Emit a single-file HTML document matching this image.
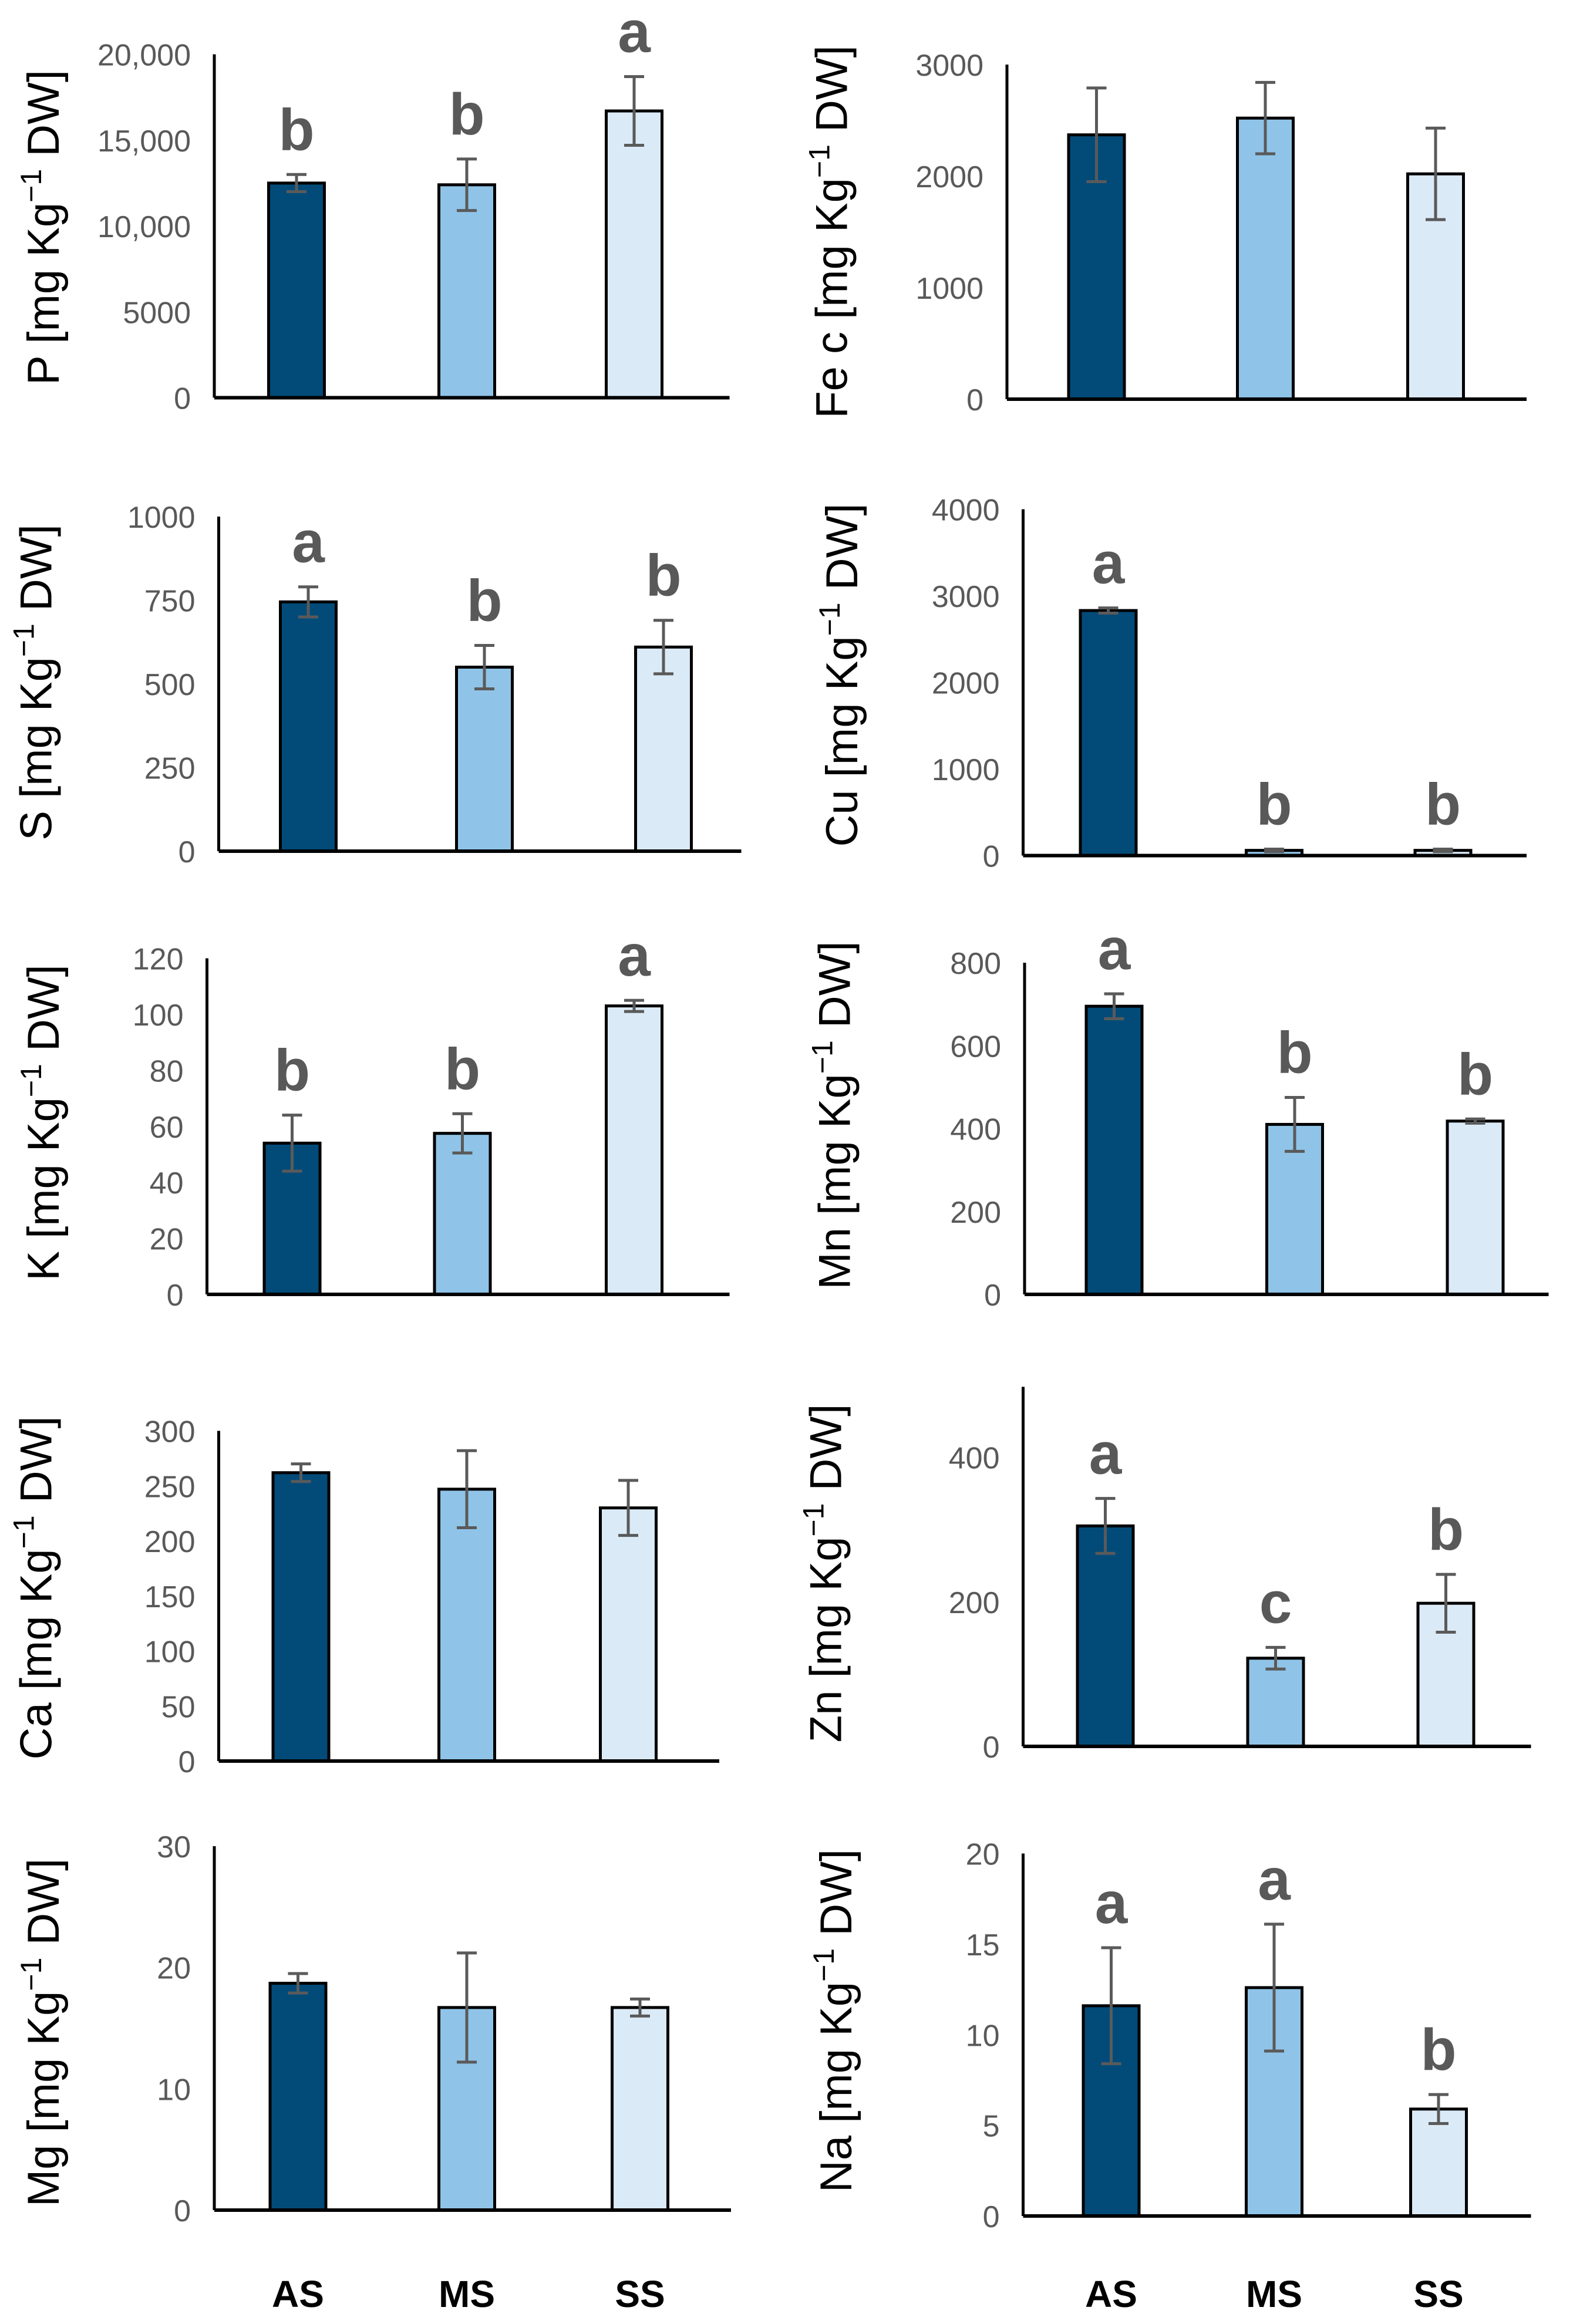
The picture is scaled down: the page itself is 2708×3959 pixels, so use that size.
<!DOCTYPE html>
<html><head><meta charset="utf-8">
<style>
html,body{margin:0;padding:0;background:#fff;}
svg{display:block;}
text{font-family:"Liberation Sans",sans-serif;}
</style></head>
<body>
<svg id="fig" width="2708" height="3959" viewBox="0 0 2708 3959" xmlns="http://www.w3.org/2000/svg"></svg>
<script>
const categories = ["AS","MS","SS"];
const barColors = ["#024b79","#8fc4e8","#dbeaf7"];

const pValues = [12500,12400,16700];  const pErrors = [500,1500,2000];  const pLetters = ["b","b","a"]; const pTicks = [0,5000,10000,15000,20000]; const pTickLabels = ["0","5000","10,000","15,000","20,000"];
const feValues = [2370,2520,2020];    const feErrors = [420,320,410];   const feLetters = ["","",""];   const feTicks = [0,1000,2000,3000]; const feTickLabels = ["0","1000","2000","3000"];
const sValues = [745,550,610];        const sErrors = [45,65,80];       const sLetters = ["a","b","b"]; const sTicks = [0,250,500,750,1000]; const sTickLabels = ["0","250","500","750","1000"];
const cuValues = [2830,60,60];        const cuErrors = [30,15,15];      const cuLetters = ["a","b","b"]; const cuTicks = [0,1000,2000,3000,4000]; const cuTickLabels = ["0","1000","2000","3000","4000"];
const kValues = [54,57.5,103];        const kErrors = [10,7,2];         const kLetters = ["b","b","a"]; const kTicks = [0,20,40,60,80,100,120]; const kTickLabels = ["0","20","40","60","80","100","120"];
const mnValues = [695,410,418];       const mnErrors = [30,65,5];       const mnLetters = ["a","b","b"]; const mnTicks = [0,200,400,600,800]; const mnTickLabels = ["0","200","400","600","800"];
const caValues = [262,247,230];       const caErrors = [8,35,25];       const caLetters = ["","",""];   const caTicks = [0,50,100,150,200,250,300]; const caTickLabels = ["0","50","100","150","200","250","300"];
const znValues = [305,122,198];       const znErrors = [38,15,40];      const znLetters = ["a","c","b"]; const znTicks = [0,200,400]; const znTickLabels = ["0","200","400"];
const mgValues = [18.7,16.7,16.7];    const mgErrors = [0.8,4.5,0.7];   const mgLetters = ["","",""];   const mgTicks = [0,10,20,30]; const mgTickLabels = ["0","10","20","30"];
const naValues = [11.6,12.6,5.9];     const naErrors = [3.2,3.5,0.8];   const naLetters = ["a","a","b"]; const naTicks = [0,5,10,15,20]; const naTickLabels = ["0","5","10","15","20"];

const svg = document.getElementById('fig');
const NS = "http://www.w3.org/2000/svg";
function mk(tag, attrs, parent){ const e=document.createElementNS(NS,tag); for(const k in attrs) e.setAttribute(k,attrs[k]); (parent||svg).appendChild(e); return e; }

const S=2.5;
function chart(id, title, vals, errs, letters, ticks, tickLabels, L){
  const g = mk('g',{});
  
  
  const ax=L.ax*S, y0=L.y0*S, yTop=L.yTop*S, xEnd=L.xEnd*S;
  const topVal = L.topVal;
  const y = v => y0 - (v/topVal)*(y0-yTop);
  const axTop = L.axTop!==undefined ? L.axTop*S : yTop;
  vals.forEach((v,i)=>{
    const cx=L.bars[i]*S, w=95;
    const r=mk('rect',{x:cx-w/2,y:y(v),width:w,height:y0-y(v),fill:barColors[i],stroke:'#000','stroke-width':5},g);
    
    
    const et=y(v+errs[i]), eb=y(v-errs[i]);
    const eg=mk('g',{stroke:'#5a5a5a','stroke-width':5},g);
    
    
    mk('line',{x1:cx,y1:et,x2:cx,y2:eb},eg);
    mk('line',{x1:cx-17,y1:et,x2:cx+17,y2:et},eg);
    mk('line',{x1:cx-17,y1:eb,x2:cx+17,y2:eb},eg);
    if(letters[i]){
      const t=mk('text',{x:cx,y:et-42,'text-anchor':'middle','font-size':100,'font-weight':'bold',fill:'#595959'},g);
      t.textContent=letters[i];
      
      
    }
  });
  const ya=mk('line',{x1:ax,y1:axTop,x2:ax,y2:y0,stroke:'#000','stroke-width':5},g);
  
  
  const xa=mk('line',{x1:ax,y1:y0,x2:xEnd,y2:y0,stroke:'#000','stroke-width':6},g);
  
  
  ticks.forEach((tv,i)=>{
    const t=mk('text',{x:ax-40,y:y(tv)+19,'text-anchor':'end','font-size':52,fill:'#595959'},g);
    t.textContent=tickLabels[i];
    
    
  });
  const tx=L.tx*S, ty=L.ty*S;
  const tt=mk('text',{x:tx,y:ty,'text-anchor':'middle','font-size':76,fill:'#000',transform:`rotate(-90 ${tx} ${ty})`},g);
  
  
  tt.innerHTML = title+' [mg Kg<tspan dy="-30" font-size="50">−1</tspan><tspan dy="30"> DW]</tspan>';
}

chart('p','P',pValues,pErrors,pLetters,pTicks,pTickLabels,{ax:146,y0:271,yTop:37,topVal:20000,xEnd:497,bars:[202,318,432],tx:40,ty:155});
chart('fe','Fe c',feValues,feErrors,feLetters,feTicks,feTickLabels,{ax:686,y0:272,yTop:44,topVal:3000,xEnd:1040,bars:[747,862,978],tx:577,ty:158});
chart('s','S',sValues,sErrors,sLetters,sTicks,sTickLabels,{ax:149,y0:580,yTop:352,topVal:1000,xEnd:505,bars:[210,330,452],tx:35,ty:465});
chart('cu','Cu',cuValues,cuErrors,cuLetters,cuTicks,cuTickLabels,{ax:697,y0:583,yTop:347,topVal:4000,xEnd:1040,bars:[755,868,983],tx:584,ty:460});
chart('k','K ',kValues,kErrors,kLetters,kTicks,kTickLabels,{ax:141,y0:882,yTop:653,topVal:120,xEnd:497,bars:[199,315,432],tx:40,ty:765});
chart('mn','Mn',mnValues,mnErrors,mnLetters,mnTicks,mnTickLabels,{ax:698,y0:882,yTop:656,topVal:800,xEnd:1055,bars:[759,882,1005],tx:579,ty:760});
chart('ca','Ca',caValues,caErrors,caLetters,caTicks,caTickLabels,{ax:149,y0:1200,yTop:975,topVal:300,xEnd:490,bars:[205,318,428],tx:35,ty:1082});
chart('zn','Zn',znValues,znErrors,znLetters,znTicks,znTickLabels,{ax:697,y0:1190,yTop:993,topVal:400,axTop:945,xEnd:1043,bars:[753,869,985],tx:573,ty:1072});
chart('mg','Mg',mgValues,mgErrors,mgLetters,mgTicks,mgTickLabels,{ax:146,y0:1506,yTop:1258,topVal:30,xEnd:498,bars:[203,318,436],tx:40,ty:1385});
chart('na','Na',naValues,naErrors,naLetters,naTicks,naTickLabels,{ax:697,y0:1510,yTop:1263,topVal:20,xEnd:1043,bars:[757,868,980],tx:580,ty:1377});

const catRows=[[203,318,436],[757,868,980]];
catRows.forEach((row)=>{
  categories.forEach((c,i)=>{
    const t=mk('text',{x:row[i]*S,y:1572*S,'text-anchor':'middle','font-size':64,'font-weight':'bold',fill:'#000'});
    t.textContent=c;
    
    
  });
});
</script>
</body></html>
